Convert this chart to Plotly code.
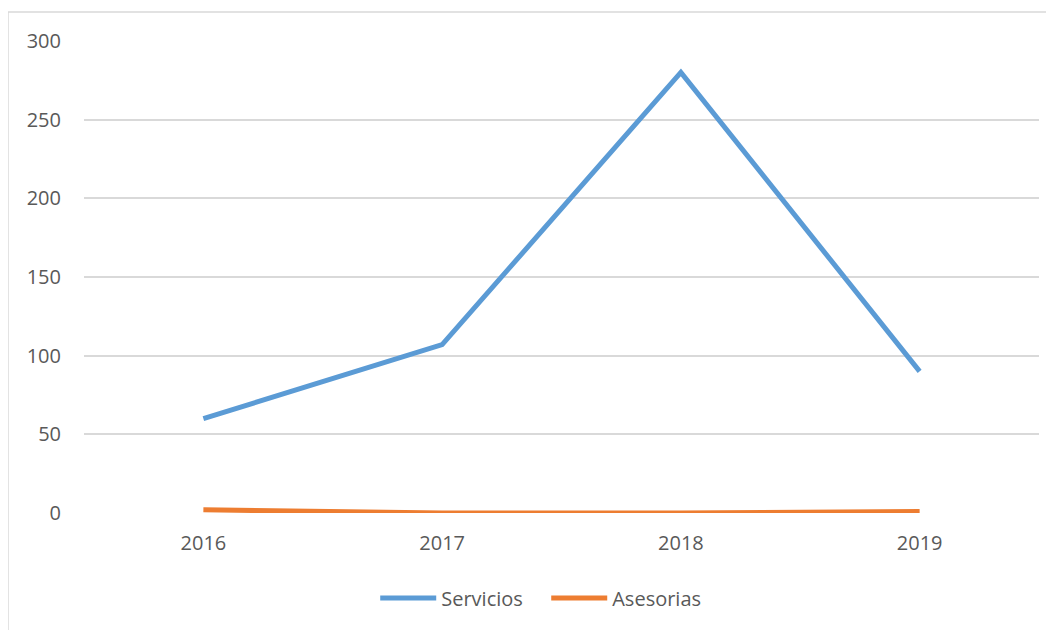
import plotly.graph_objects as go

years = ["2016", "2017", "2018", "2019"]
servicios = [60, 107, 280, 90]
asesorias = [2, 0, 0, 1]
y_ticks = [0, 50, 100, 150, 200, 250, 300]

fig = go.Figure()
fig.add_trace(go.Scatter(x=years, y=servicios, mode="lines", name="Servicios",
                         line=dict(color="#5B9BD5", width=5)))
fig.add_trace(go.Scatter(x=years, y=asesorias, mode="lines", name="Asesorias",
                         line=dict(color="#ED7D31", width=5)))

font_family = "Open Sans, Liberation Sans, sans-serif"
fig.update_layout(
    width=1046, height=622,
    margin=dict(l=76, r=15, t=33, b=114),
    paper_bgcolor="white", plot_bgcolor="white",
    font=dict(family=font_family, size=20, color="#595959"),
    showlegend=True,
    legend=dict(orientation="h", x=0.484, xanchor="center", y=-0.18, yanchor="middle",
                font=dict(size=20, color="#595959"), itemwidth=56,
                entrywidth=100, entrywidthmode="pixels",
                traceorder="normal"),
    xaxis=dict(type="category", range=[-0.5, 3.5], showgrid=False, zeroline=False,
               showline=False, ticks="", tickfont=dict(size=20, color="#595959"),
               ticklabelstandoff=16),
    yaxis=dict(range=[0, 300], tickvals=y_ticks, showgrid=True, gridcolor="#d9d9d9",
               gridwidth=1.5, zeroline=False, showline=False, ticks="",
               tickfont=dict(size=20, color="#595959"), ticklabelstandoff=22),
    shapes=[dict(type="rect", xref="paper", yref="paper",
                 x0=-0.0796, x1=1.1, y0=-0.4, y1=1.0613,
                 line=dict(color="#d9d9d9", width=1.5), fillcolor="rgba(0,0,0,0)",
                 layer="below")],
)

fig.write_html("out.html")
